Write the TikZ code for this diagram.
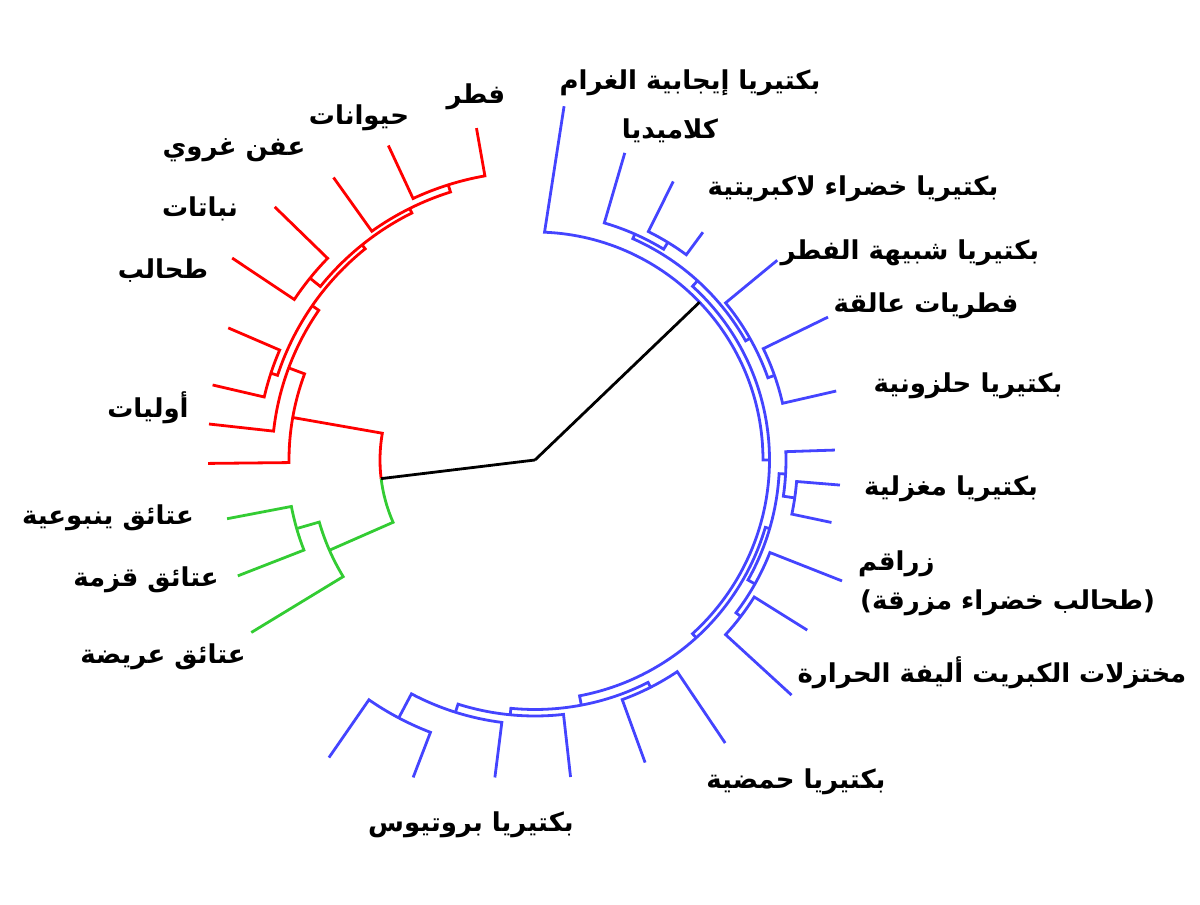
\documentclass[tikz,border=0pt]{standalone}
\usepackage{fontspec}
\usepackage{tikz}
\TeXXeTstate=1
\newfontfamily\arabicfont[Script=Arabic]{DejaVu Sans}
\newfontfamily\latinfont{DejaVu Sans}
\definecolor{eukred}{RGB}{255,0,0}
\definecolor{archgreen}{RGB}{51,204,51}
\definecolor{bactblue}{RGB}{68,68,255}
\tikzstyle{euk} = [draw=eukred, line width=2.8pt]
\tikzstyle{arch} = [draw=archgreen, line width=2.8pt]
\tikzstyle{bact} = [draw=bactblue, line width=2.8pt]
\tikzstyle{root} = [draw=black, line width=2.8pt]
\tikzstyle{lbl} = [inner sep=0pt, font=\arabicfont\bfseries\fontsize{26}{30}\selectfont]
% angle1, radius of child 1, angle2, radius of child 2, radius of the clade
\newcommand{\clade}[5]{\draw (#1:#2) -- (#1:#5) arc[start angle=#1, end angle=#3, radius=#5] -- (#3:#4);}

\begin{document}
\begin{tikzpicture}[x=1pt, y=1pt]
  \useasboundingbox (-535,-445) rectangle (665,460);
  \coordinate (o) at (0,0);

  % eukaryotes
  \begin{scope}[euk]
    \clade{100}{337}{115}{347}{288.5}
    \clade{107.5}{288.5}{125.5}{347}{281}
    \clade{135.8}{363}{146.3}{364}{289.3}
    \clade{116.5}{281}{141.05}{289.3}{276}
    \clade{156.7}{334}{166.9}{331}{278}
    \clade{128.8}{276}{161.8}{278}{271}
    \clade{145.3}{271}{173.7}{328}{263}
    \clade{159.5}{263}{180.6}{327}{246}
    \draw (170.05:246) -- (170.05:155) arc[start angle=170.05, end angle=186.9, radius=155];
  \end{scope}

  % archaea
  \begin{scope}[arch]
    \draw (186.9:155) arc[start angle=186.9, end angle=203.7, radius=155] -- (203.7:224.5);
    \clade{190.8}{313.5}{201.3}{319}{248}
    \clade{196.05}{248}{211.3}{332}{224.5}
  \end{scope}

  % bacteria
  \begin{scope}[bact]
    \clade{63.6}{311}{53.6}{283}{255}
    \clade{73.7}{320}{58.6}{255}{247}
    \clade{26}{326}{12.9}{309}{254}
    \clade{39.5}{314}{19.45}{254}{247}
    \clade{66.15}{247}{29.5}{247}{242}
    \clade{-4.7}{306}{-11.9}{303}{262.5}
    \clade{1.9}{300}{-8.3}{262.5}{251}
    \clade{-32}{321}{-42.5}{348}{258.5}
    \clade{-21.5}{330}{-37.25}{258.5}{252.5}
    \clade{-3.2}{251}{-29.4}{252.5}{244.5}
    \clade{-56.1}{341}{-70}{322}{255}
    \clade{-111}{340}{-124.7}{362}{291.7}
    \clade{-97.2}{320}{-117.85}{291.7}{264.5}
    \clade{-83.6}{319}{-107.5}{264.5}{256}
    \clade{-63.05}{255}{-95.55}{256}{249.5}
    \clade{-16.3}{244.5}{-79.3}{249.5}{240}
    \clade{47.8}{242}{-47.8}{240}{234.5}
    \draw (85.3:355) -- (87.6:228) arc[start angle=87.6, end angle=0, radius=228] -- (0:234.5);
  \end{scope}

  \coordinate (ea) at (186.9:155);
  \coordinate (bac) at (43.8:228);
  \draw [root] (o) -- (ea);
  \draw [root] (o) -- (bac);

  % labels
  \node [lbl] (fungi) at (-59,363) {\beginR فطر\endR};
  \node [lbl] (animals) at (-176,342) {\beginR حيوانات\endR};
  \node [lbl] (slime) at (-301,310) {\beginR عفن غروي\endR};
  \node [lbl] (plants) at (-335,251) {\beginR نباتات\endR};
  \node [lbl] (algae) at (-372,189) {\beginR طحالب\endR};
  \node [lbl] (protists) at (-387,52) {\beginR أوليات\endR};
  \node [lbl] (kor) at (-427,-58) {\beginR عتائق ينبوعية\endR};
  \node [lbl] (nano) at (-389,-120) {\beginR عتائق قزمة\endR};
  \node [lbl] (eury) at (-372,-197) {\beginR عتائق عريضة\endR};
  \node [lbl] (gram) at (155,377) {\beginR بكتيريا إيجابية الغرام\endR};
  \node [lbl] (chlam) at (135,329) {\beginR كلاميديا\endR};
  \node [lbl] (gns) at (318,271) {\beginR بكتيريا خضراء لاكبريتية\endR};
  \node [lbl] (actino) at (375,207) {\beginR بكتيريا شبيهة الفطر\endR};
  \node [lbl] (plancto) at (391,154) {\beginR فطريات عالقة\endR};
  \node [lbl] (spiro) at (433,74) {\beginR بكتيريا حلزونية\endR};
  \node [lbl] (fuso) at (416,-29) {\beginR بكتيريا مغزلية\endR};
  \node [lbl, anchor=west] (cyano) at (323,-104) {\beginR زراقم\endR};
  \node [lbl, anchor=west] (cyano2) at (325,-143) {{\latinfont (}\beginR طحالب خضراء مزرقة\endR{\latinfont )}};
  \node [lbl] (thermo) at (457,-213) {\beginR مختزلات الكبريت أليفة الحرارة\endR};
  \node [lbl] (acido) at (261,-322) {\beginR بكتيريا حمضية\endR};
  \node [lbl] (proteo) at (-64,-365) {\beginR بكتيريا بروتيوس\endR};
\end{tikzpicture}
\end{document}
